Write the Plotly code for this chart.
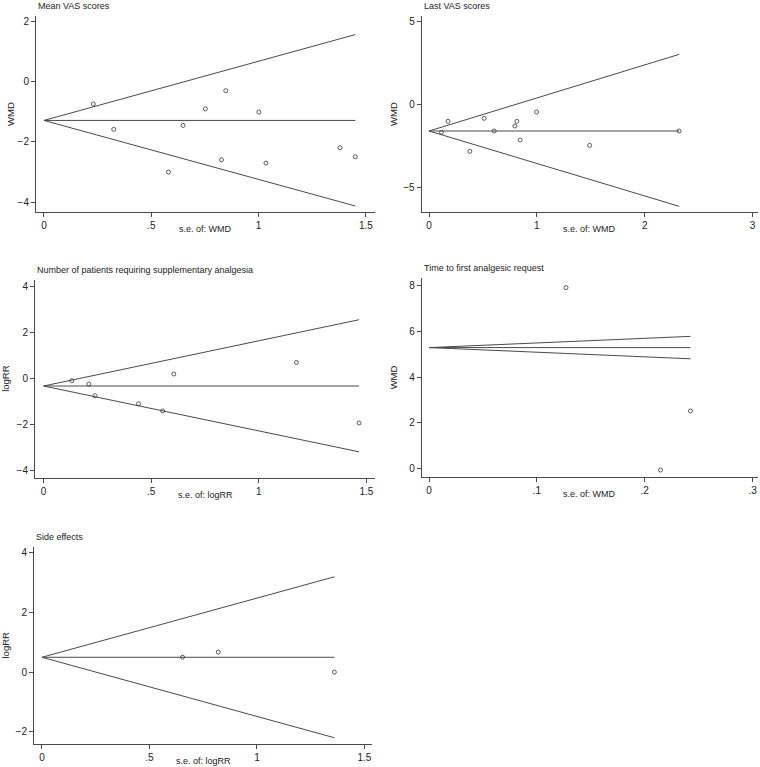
import plotly.graph_objects as go

# ---- data ----
# 1. Mean VAS scores
vas_mean_se = [0.23, 0.325, 0.58, 0.648, 0.752, 0.827, 0.847, 1.001, 1.034, 1.379, 1.45]
vas_mean_wmd = [-0.75, -1.59, -3.01, -1.46, -0.91, -2.60, -0.31, -1.02, -2.71, -2.20, -2.50]
vas_mean_funnel_se = [0, 1.45]
vas_mean_pooled = [-1.295, -1.295]
vas_mean_upper = [-1.295, 1.55]
vas_mean_lower = [-1.295, -4.13]

# 2. Last VAS scores
vas_last_se = [0.115, 0.176, 0.378, 0.511, 0.604, 0.796, 0.814, 0.845, 0.997, 1.489, 2.319]
vas_last_wmd = [-1.68, -1.02, -2.82, -0.84, -1.60, -1.30, -1.02, -2.14, -0.46, -2.46, -1.60]
vas_last_funnel_se = [0, 2.32]
vas_last_pooled = [-1.60, -1.60]
vas_last_upper = [-1.60, 3.0]
vas_last_lower = [-1.60, -6.12]

# 3. Number of patients requiring supplementary analgesia
supp_se = [0.131, 0.21, 0.239, 0.441, 0.553, 0.605, 1.175, 1.466]
supp_logrr = [-0.10, -0.245, -0.75, -1.10, -1.41, 0.19, 0.69, -1.93]
supp_funnel_se = [0, 1.466]
supp_pooled = [-0.33, -0.33]
supp_upper = [-0.33, 2.54]
supp_lower = [-0.33, -3.18]

# 4. Time to first analgesic request
time_se = [0.127, 0.2146, 0.2424]
time_wmd = [7.91, -0.06, 2.52]
time_funnel_se = [0, 0.2424]
time_pooled = [5.29, 5.29]
time_upper = [5.29, 5.78]
time_lower = [5.29, 4.80]

# 5. Side effects
side_se = [0.654, 0.82, 1.36]
side_logrr = [0.504, 0.672, 0.0]
side_funnel_se = [0, 1.36]
side_pooled = [0.50, 0.50]
side_upper = [0.50, 3.20]
side_lower = [0.50, -2.20]

W, H = 760, 767
line_col = "#4a4a4a"
font = "Liberation Sans, Arial, sans-serif"

panels = [
    dict(title="Mean VAS scores", ytitle="WMD", xtitle="s.e. of: WMD", ytx=10,
         se=vas_mean_se, eff=vas_mean_wmd, fse=vas_mean_funnel_se,
         pooled=vas_mean_pooled, up=vas_mean_upper, lo=vas_mean_lower,
         px=(36, 375), py=(16, 212), xr=[-0.037, 1.542], yr=[-4.33, 2.166],
         xt=[0, 0.5, 1, 1.5], xl=["0", ".5", "1", "1.5"], yt=[-4, -2, 0, 2]),
    dict(title="Last VAS scores", ytitle="WMD", xtitle="s.e. of: WMD", ytx=393,
         se=vas_last_se, eff=vas_last_wmd, fse=vas_last_funnel_se,
         pooled=vas_last_pooled, up=vas_last_upper, lo=vas_last_lower,
         px=(421.7, 758), py=(16, 212), xr=[-0.068, 3.05], yr=[-6.46, 5.30],
         xt=[0, 1, 2, 3], xl=["0", "1", "2", "3"], yt=[-5, 0, 5]),
    dict(title="Number of patients requiring supplementary analgesia", ytitle="logRR",
         xtitle="s.e. of: logRR", ytx=6,
         se=supp_se, eff=supp_logrr, fse=supp_funnel_se,
         pooled=supp_pooled, up=supp_upper, lo=supp_lower,
         px=(35, 375), py=(280, 477.7), xr=[-0.04, 1.54], yr=[-4.3, 4.26],
         xt=[0, 0.5, 1, 1.5], xl=["0", ".5", "1", "1.5"], yt=[-4, -2, 0, 2, 4]),
    dict(title="Time to first analgesic request", ytitle="WMD", xtitle="s.e. of: WMD",
         ytx=393,
         se=time_se, eff=time_wmd, fse=time_funnel_se,
         pooled=time_pooled, up=time_upper, lo=time_lower,
         px=(421.7, 758), py=(278, 476.7), xr=[-0.0068, 0.305], yr=[-0.35, 8.33],
         xt=[0, 0.1, 0.2, 0.3], xl=["0", ".1", ".2", ".3"], yt=[0, 2, 4, 6, 8]),
    dict(title="Side effects", ytitle="logRR", xtitle="s.e. of: logRR", ytx=5,
         se=side_se, eff=side_logrr, fse=side_funnel_se,
         pooled=side_pooled, up=side_upper, lo=side_lower,
         px=(34, 372), py=(547, 744), xr=[-0.037, 1.535], yr=[-2.41, 4.2],
         xt=[0, 0.5, 1, 1.5], xl=["0", ".5", "1", "1.5"], yt=[-2, 0, 2, 4]),
]

fig = go.Figure()
layout = dict(width=W, height=H, margin=dict(l=0, r=0, t=0, b=0),
              paper_bgcolor="white", plot_bgcolor="white", showlegend=False,
              font=dict(family=font, size=10, color="#222"), annotations=[])

for i, p in enumerate(panels, start=1):
    xa = "x" if i == 1 else f"x{i}"
    ya = "y" if i == 1 else f"y{i}"
    for ys in (p["up"], p["pooled"], p["lo"]):
        fig.add_trace(go.Scatter(x=p["fse"], y=ys, mode="lines", xaxis=xa, yaxis=ya,
                                 line=dict(color=line_col, width=1), hoverinfo="skip"))
    fig.add_trace(go.Scatter(x=p["se"], y=p["eff"], mode="markers", xaxis=xa, yaxis=ya,
                             marker=dict(symbol="circle-open", size=4,
                                         color="#333", line=dict(width=0.8))))
    axis_common = dict(showgrid=False, zeroline=False, showline=True, linecolor=line_col,
                       linewidth=1, ticks="outside", ticklen=4, tickcolor=line_col,
                       automargin=False, ticklabeloverflow="allow",
                       tickfont=dict(size=10, family=font, color="#222"))
    layout["xaxis" if i == 1 else f"xaxis{i}"] = dict(
        axis_common, domain=[p["px"][0] / W, p["px"][1] / W], range=p["xr"],
        anchor=ya, tickvals=p["xt"], ticktext=p["xl"])
    layout["yaxis" if i == 1 else f"yaxis{i}"] = dict(
        axis_common, domain=[1 - p["py"][1] / H, 1 - p["py"][0] / H], range=p["yr"],
        anchor=xa, tickvals=p["yt"])
    ann_font = dict(size=9, family=font, color="#222")
    # panel title
    layout["annotations"].append(dict(
        text=p["title"], x=p["px"][0] / W, y=1 - (p["py"][0] - 10) / H,
        xref="paper", yref="paper", xanchor="left", yanchor="middle",
        showarrow=False, font=ann_font))
    # x-axis title
    layout["annotations"].append(dict(
        text=p["xtitle"], x=(p["px"][0] + p["px"][1]) / 2 / W,
        y=1 - (p["py"][1] + 17) / H, xref="paper", yref="paper",
        xanchor="center", yanchor="middle", showarrow=False, font=ann_font))
    # y-axis title
    layout["annotations"].append(dict(
        text=p["ytitle"], x=p["ytx"] / W, y=1 - (p["py"][0] + p["py"][1]) / 2 / H,
        xref="paper", yref="paper", xanchor="center", yanchor="middle",
        textangle=-90, showarrow=False, font=dict(ann_font, size=9.5)))

fig.update_layout(**layout)
# drop the default body margin so the figure fills the window exactly
fig.write_html("out.html", config={"displayModeBar": False},
               post_script="document.body.style.margin='0';")
